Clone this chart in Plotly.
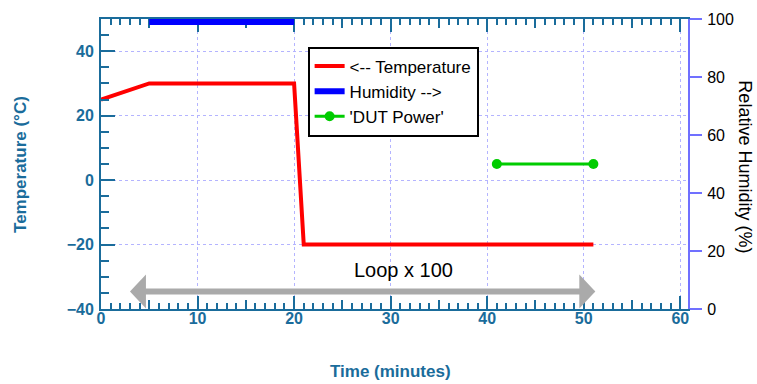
import plotly.graph_objects as go

# ---- data ----
temp_time = [0, 5, 20, 21, 51]
temp_vals = [25, 30, 30, -20, -20]
hum_time = [5, 20]
hum_vals = [99, 99]
dut_time = [41, 51]
dut_vals = [50, 50]          # on humidity (right) axis
loop_start = 3.0
loop_end = 51.2
loop_y = -34.6
loop_label = "Loop x 100"
loop_label_y = -28

x_range = [0, 60.8]
temp_range = [-40, 50]
hum_range = [0, 100]

TEAL = "#1a6c9b"
PURP = "#7070ff"
GRID = "#b4b4ff"
FONT = "Liberation Sans, Arial, sans-serif"

fig = go.Figure()
fig.add_trace(go.Scatter(x=temp_time, y=temp_vals, mode="lines", name="<-- Temperature",
                         line=dict(color="#ff0000", width=4)))
fig.add_trace(go.Scatter(x=hum_time, y=hum_vals, mode="lines", name="Humidity -->",
                         line=dict(color="#0000ff", width=6), yaxis="y2"))
fig.add_trace(go.Scatter(x=dut_time, y=dut_vals, mode="lines+markers", name="'DUT Power'",
                         line=dict(color="#00cc00", width=3),
                         marker=dict(color="#00cc00", size=10), yaxis="y2"))

# loop arrow
ARROW = "#aaaaaa"
fig.add_shape(type="line", x0=loop_start + 1, x1=loop_end - 1, y0=loop_y, y1=loop_y,
              xref="x", yref="y", line=dict(color=ARROW, width=6), layer="above")
fig.add_shape(type="path", xref="x", yref="y", xsizemode="pixel", ysizemode="pixel",
              xanchor=loop_start, yanchor=loop_y, path="M 0 0 L 16 17 L 16 -17 Z",
              fillcolor=ARROW, line=dict(width=0))
fig.add_shape(type="path", xref="x", yref="y", xsizemode="pixel", ysizemode="pixel",
              xanchor=loop_end, yanchor=loop_y, path="M 0 0 L -16 17 L -16 -17 Z",
              fillcolor=ARROW, line=dict(width=0))
fig.add_annotation(x=(loop_start + loop_end) / 2 + 4.2, y=loop_label_y, xref="x", yref="y",
                   text=loop_label, showarrow=False, font=dict(family=FONT, size=20, color="black"))

# axis titles
fig.add_annotation(x=-0.138, y=0.5, xref="paper", yref="paper", text="<b>Temperature (°C)</b>",
                   textangle=-90, showarrow=False, xanchor="center", yanchor="middle",
                   font=dict(family=FONT, size=17, color=TEAL))
fig.add_annotation(x=0.494, y=-0.217, xref="paper", yref="paper", text="<b>Time (minutes)</b>",
                   showarrow=False, xanchor="center", yanchor="middle",
                   font=dict(family=FONT, size=17, color=TEAL))
fig.add_annotation(x=1.098, y=0.49, xref="paper", yref="paper", text="Relative Humidity (%)",
                   textangle=90, showarrow=False, xanchor="center", yanchor="middle",
                   font=dict(family=FONT, size=18, color="black"))

fig.update_layout(
    width=757, height=384,
    margin=dict(l=101, r=69, t=19, b=75),
    plot_bgcolor="white", paper_bgcolor="white",
    showlegend=True,
    legend=dict(x=0.352, y=0.905, xanchor="left", yanchor="top",
                bgcolor="white", bordercolor="black", borderwidth=2,
                font=dict(family=FONT, size=17, color="black"),
                itemwidth=30, tracegroupgap=0),
    xaxis=dict(range=x_range, dtick=10, tick0=0, showline=True, linecolor=TEAL, linewidth=2,
               mirror="ticks", ticks="inside", ticklen=13, tickwidth=2, tickcolor=TEAL,
               showgrid=True, gridcolor=GRID, griddash="dot", gridwidth=1, zeroline=False,
               ticklabelstandoff=-6, layer="below traces",
               tickfont=dict(family=FONT, size=16, color=TEAL, weight="bold"),
               minor=dict(dtick=1, tick0=0, ticks="inside", ticklen=6, tickwidth=1.5,
                          tickcolor=TEAL, showgrid=False)),
    xaxis2=dict(range=x_range, dtick=5, tick0=0, overlaying="x", anchor="y",
                showline=False, mirror="ticks", ticks="inside", ticklen=9, tickwidth=1.5,
                tickcolor=TEAL, showticklabels=False, showgrid=False, zeroline=False,
                layer="below traces"),
    yaxis=dict(range=temp_range, dtick=20, tick0=0, showline=True, linecolor=TEAL, linewidth=2,
               ticks="inside", ticklen=14, tickwidth=2, tickcolor=TEAL,
               showgrid=True, gridcolor=GRID, griddash="dot", gridwidth=1, zeroline=False,
               ticklabelstandoff=2,
               tickfont=dict(family=FONT, size=16, color=TEAL, weight="bold"),
               minor=dict(dtick=5, tick0=0, ticks="inside", ticklen=8, tickwidth=2,
                          tickcolor=TEAL, showgrid=False)),
    yaxis2=dict(range=hum_range, dtick=20, tick0=0, overlaying="y", side="right",
                showline=True, linecolor=PURP, linewidth=2, ticks="outside", ticklen=12,
                tickwidth=2, tickcolor=PURP, showgrid=False, zeroline=False,
                ticklabelstandoff=2,
                tickfont=dict(family=FONT, size=16, color="black")),
)
# dummy trace to make xaxis2 render
fig.add_trace(go.Scatter(x=[None], y=[None], xaxis="x2", showlegend=False, hoverinfo="skip"))

fig.write_html("out.html")
